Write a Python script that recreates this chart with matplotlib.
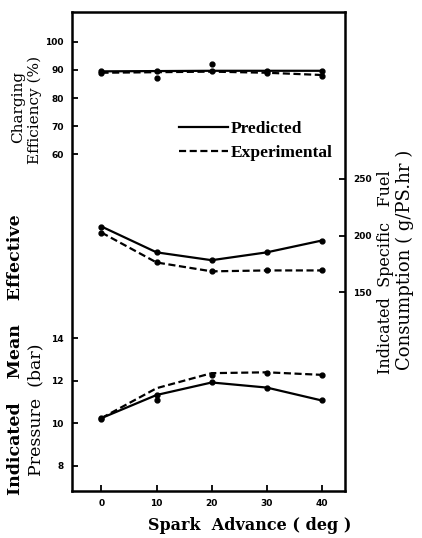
import matplotlib
matplotlib.use("Agg")
import matplotlib.pyplot as plt
from matplotlib.lines import Line2D

# ---- data ----
spark_advance = [0, 10, 20, 30, 40]
x_ticks = [0, 10, 20, 30, 40]

ce_predicted = [89.5, 89.6, 89.7, 89.7, 89.7]
ce_exp_curve = [89.0, 89.2, 89.4, 89.0, 88.2]
ce_exp_points = [89.0, 87.2, 92.0, 89.0, 88.0]
ce_ticks = [60, 70, 80, 90, 100]

isfc_predicted = [207.9, 185.2, 178.3, 185.2, 195.6]
isfc_exp_curve = [202.6, 176.3, 168.5, 169.3, 169.3]
isfc_ticks = [150, 200, 250]

imep_predicted = [10.24, 11.33, 11.92, 11.68, 11.07]
imep_exp_curve = [10.24, 11.65, 12.36, 12.40, 12.28]
imep_exp_points = [10.2, 11.1, 12.28, 12.36, 12.28]
imep_ticks = [8, 10, 12, 14]

legend_labels = ["Predicted", "Experimental"]

# ---- figure ----
W, H = 422, 538
fig = plt.figure(figsize=(W / 100, H / 100), dpi=100)
serif = ["Liberation Serif", "DejaVu Serif"]
wide = ["DejaVu Serif"]
plt.rcParams["font.family"] = serif

L, R, T, B = 72, 345, 12, 491
ax = fig.add_axes([L / W, 1 - B / H, (R - L) / W, (B - T) / H])
ax_ce = ax.twinx()
ax_r = ax.twinx()

ax.set_xlim(-5.35, 44.2)
ax.set_ylim(6.8, 29.4)
ax_ce.set_ylim(-59.7, 110.6)
ax_r.set_ylim(-24.6, 396.5)

lw = 1.6
ms = 3.5
dash = (3.2, 1.6)

# IMEP
ax.plot(spark_advance, imep_predicted, color="black", lw=lw, marker="o", ms=ms)
ax.plot(spark_advance, imep_exp_curve, color="black", lw=lw, ls=(0, dash))
ax.plot(spark_advance, imep_exp_points, color="black", lw=0, marker="o", ms=ms)

# Charging efficiency
ax_ce.plot(spark_advance, ce_predicted, color="black", lw=lw, marker="o", ms=ms)
ax_ce.plot(spark_advance, ce_exp_curve, color="black", lw=lw, ls=(0, dash))
ax_ce.plot(spark_advance, ce_exp_points, color="black", lw=0, marker="o", ms=ms)

# ISFC
ax_r.plot(spark_advance, isfc_predicted, color="black", lw=lw, marker="o", ms=ms)
ax_r.plot(spark_advance, isfc_exp_curve, color="black", lw=lw, ls=(0, dash), marker="o", ms=ms)

tick_font = dict(fontsize=6.5, fontweight="bold", family="DejaVu Sans")

ax.set_xticks(x_ticks)
ax.set_xticklabels([str(v) for v in x_ticks], **tick_font)
ax.set_yticks(imep_ticks)
ax.set_yticklabels([str(v) for v in imep_ticks], **tick_font)
ax.tick_params(direction="in", length=4, width=1.3, pad=6)

ax_ce.yaxis.tick_left()
ax_ce.set_yticks(ce_ticks)
ax_ce.set_yticklabels([str(v) for v in ce_ticks], **tick_font)
ax_ce.tick_params(axis="y", direction="in", length=4, width=1.3, pad=6)

ax_r.set_yticks(isfc_ticks)
ax_r.set_yticklabels([str(v) for v in isfc_ticks], **tick_font)
ax_r.tick_params(axis="y", direction="in", length=4, width=1.3, pad=6)

for a in (ax_ce, ax_r):
    for s in a.spines.values():
        s.set_visible(False)
for s in ax.spines.values():
    s.set_linewidth(1.8)

# legend
handles = [Line2D([], [], color="black", lw=lw),
           Line2D([], [], color="black", lw=lw, ls=(0, dash))]
ax.legend(handles, legend_labels, loc="upper left",
          bbox_to_anchor=((179 - L) / (R - L), 1 - (121 - T) / (B - T)),
          frameon=False, handlelength=2.8, handletextpad=0.15,
          borderpad=0, borderaxespad=0, labelspacing=0.45,
          prop=dict(family=serif, size=12.5, weight="bold"))

# axis labels
lab = dict(rotation=90, ha="center", va="center")
fig.text(18 / W, 1 - 107 / H, "Charging", fontsize=11, family=wide, **lab)
fig.text(35 / W, 1 - 110 / H, "Efficiency (%)", fontsize=11, family=wide, **lab)
fig.text(16 / W, 1 - 355 / H, "Indicated    Mean    Effective", fontsize=12.5,
         fontweight="bold", family=wide, **lab)
fig.text(36 / W, 1 - 410 / H, "Pressure  (bar)", fontsize=12.5, family=wide, **lab)
fig.text(385 / W, 1 - 272 / H, "Indicated  Specific   Fuel", fontsize=11.5,
         family=wide, **lab)
fig.text(405 / W, 1 - 260 / H, "Consumption ( g/PS.hr )", fontsize=13, family=wide, **lab)
fig.text(250 / W, 1 - 525 / H, "Spark  Advance ( deg )", fontsize=11.5, fontweight="bold",
         family=wide, ha="center", va="center")

fig.savefig("out.png", dpi=100)
